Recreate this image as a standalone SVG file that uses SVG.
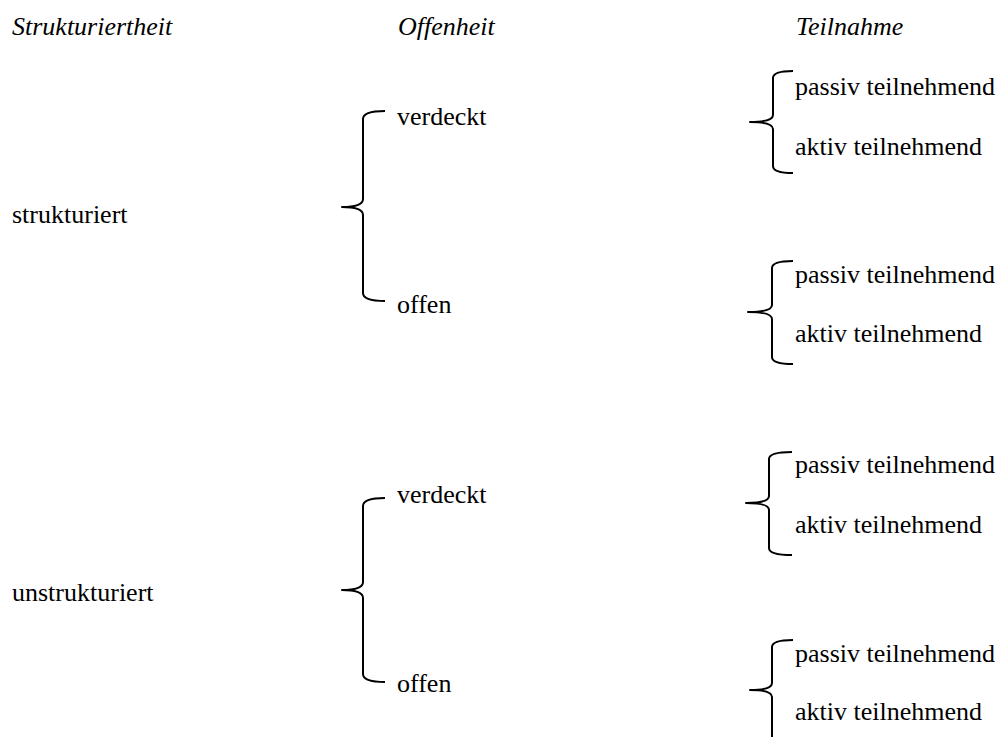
<svg xmlns="http://www.w3.org/2000/svg" width="1003" height="737" viewBox="0 0 1003 737">
  <style>
    text { font-family: "Liberation Serif", "Times New Roman", serif; font-size: 26px; fill: #000; }
    .head { font-style: italic; }
    .brace { fill: none; stroke: #000; stroke-width: 2; stroke-linejoin: round; }
  </style>
  <rect width="1003" height="737" fill="#fff"/>

  <!-- column headings -->
  <g id="headings">
    <text class="head" x="12" y="35">Strukturiertheit</text>
    <text class="head" x="398" y="35">Offenheit</text>
    <text class="head" x="796" y="35">Teilnahme</text>
  </g>

  <!-- curly braces linking each level to the next -->
  <g id="connectors">
    <path class="brace" d="M385,111 Q363,111 363,119 L363,199 Q363,207 342,207 Q363,207 363,215 L363,293 Q363,301 385,301"/>
    <path class="brace" d="M385,498 Q363,498 363,506 L363,582 Q363,590 342,590 Q363,590 363,598 L363,674 Q363,682 385,682"/>
    <path class="brace" d="M793,71 Q773,71 773,78 L773,115 Q773,122 750,122 Q773,122 773,129 L773,166 Q773,173 793,173"/>
    <path class="brace" d="M793,261 Q772,261 772,268 L772,305 Q772,312 748,312 Q772,312 772,319 L772,357 Q772,364 793,364"/>
    <path class="brace" d="M792,452 Q769,452 769,459 L769,496 Q769,503 746,503 Q769,503 769,510 L769,548 Q769,555 792,555"/>
    <path class="brace" d="M793,640 Q772,640 772,647 L772,683 Q772,690 750,690 Q772,690 772,697 L772,740"/>
  </g>

  <g id="strukturiert">
    <text x="12" y="223">strukturiert</text>
  </g>
  <g id="unstrukturiert">
    <text x="12" y="601">unstrukturiert</text>
  </g>

  <g id="s-verdeckt">
    <text x="397" y="125">verdeckt</text>
  </g>
  <g id="s-offen">
    <text x="397" y="313">offen</text>
  </g>
  <g id="u-verdeckt">
    <text x="397" y="503">verdeckt</text>
  </g>
  <g id="u-offen">
    <text x="397" y="692">offen</text>
  </g>

  <g id="s-verdeckt-teilnahme">
    <text x="795" y="95">passiv teilnehmend</text>
    <text x="795" y="155">aktiv teilnehmend</text>
  </g>
  <g id="s-offen-teilnahme">
    <text x="795" y="283">passiv teilnehmend</text>
    <text x="795" y="342">aktiv teilnehmend</text>
  </g>
  <g id="u-verdeckt-teilnahme">
    <text x="795" y="473">passiv teilnehmend</text>
    <text x="795" y="533">aktiv teilnehmend</text>
  </g>
  <g id="u-offen-teilnahme">
    <text x="795" y="662">passiv teilnehmend</text>
    <text x="795" y="720">aktiv teilnehmend</text>
  </g>
</svg>
